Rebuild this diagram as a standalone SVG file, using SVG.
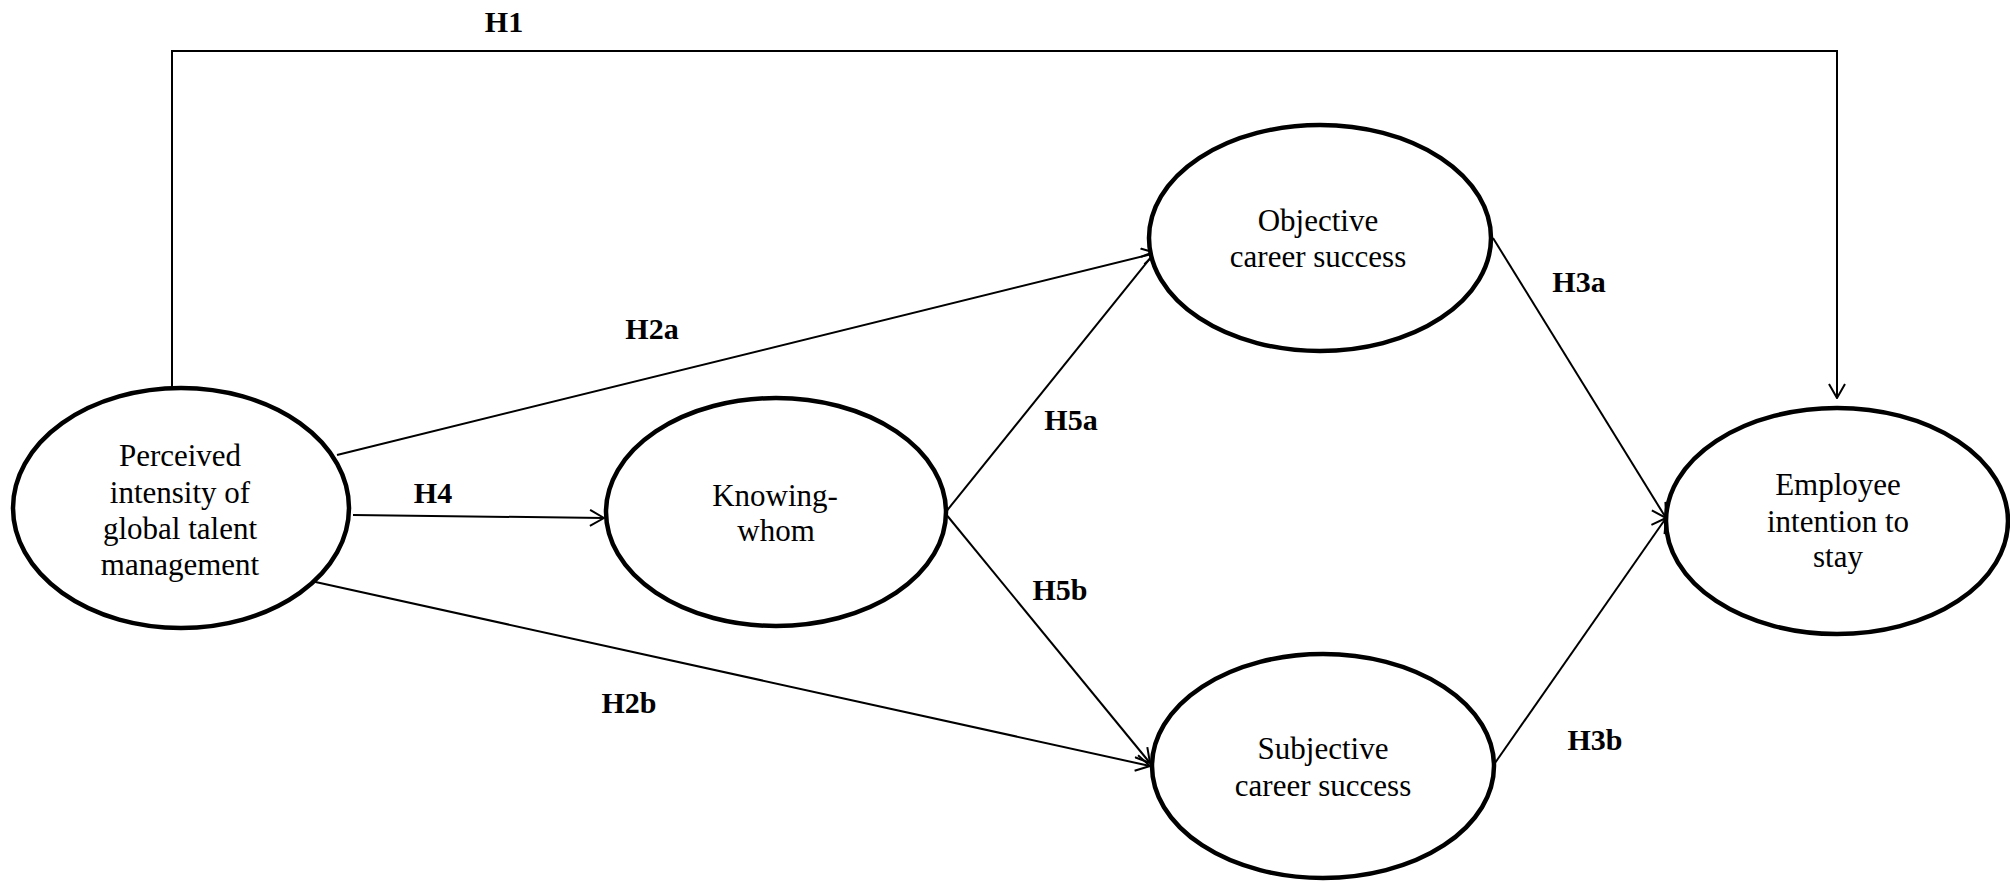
<svg xmlns="http://www.w3.org/2000/svg" width="2010" height="882" viewBox="0 0 2010 882">
<style>
.node{fill:#fff;stroke:#000;stroke-width:4.5}
.nt{font-family:"Liberation Serif","Times New Roman",serif;font-size:31px;fill:#000;text-anchor:middle}
.lb{font-family:"Liberation Serif","Times New Roman",serif;font-size:30px;font-weight:bold;fill:#000;text-anchor:middle}
.edge{fill:none;stroke:#000;stroke-width:2;marker-end:url(#arr)}
</style>
<defs>
<marker id="arr" viewBox="0 0 16 18" refX="15" refY="9" markerWidth="16" markerHeight="18" markerUnits="userSpaceOnUse" orient="auto">
<path d="M1,1 L15,9 L1,17" fill="none" stroke="#000" stroke-width="2"/>
</marker>
</defs>
<rect width="2010" height="882" fill="#fff"/>
<g id="connectors">
<polyline class="edge" points="172,388 172,51 1837,51 1837,398"/>
<line class="edge" x1="337" y1="455" x2="1156" y2="253"/>
<line class="edge" x1="353" y1="515" x2="604" y2="518"/>
<line class="edge" x1="311" y1="581" x2="1150" y2="766"/>
<line class="edge" x1="945" y1="513" x2="1156" y2="251"/>
<line class="edge" x1="945" y1="513" x2="1150" y2="763"/>
<line class="edge" x1="1493" y1="238" x2="1666" y2="518"/>
<line class="edge" x1="1495" y1="763" x2="1666" y2="518"/>
<text class="lb" x="504" y="32">H1</text>
<text class="lb" x="652" y="339">H2a</text>
<text class="lb" x="433" y="503">H4</text>
<text class="lb" x="629" y="713">H2b</text>
<text class="lb" x="1071" y="430">H5a</text>
<text class="lb" x="1060" y="600">H5b</text>
<text class="lb" x="1579" y="292">H3a</text>
<text class="lb" x="1595" y="750">H3b</text>
</g>
<g id="pigtm">
<ellipse class="node" cx="181" cy="508" rx="168" ry="120"/>
<text class="nt" x="180" y="466">Perceived</text>
<text class="nt" x="180" y="503">intensity of</text>
<text class="nt" x="180" y="539">global talent</text>
<text class="nt" x="180" y="575">management</text>
</g>
<g id="knowing">
<ellipse class="node" cx="776" cy="512" rx="170" ry="114"/>
<text class="nt" x="775" y="506">Knowing-</text>
<text class="nt" x="776" y="541">whom</text>
</g>
<g id="objective">
<ellipse class="node" cx="1320" cy="238" rx="171" ry="113"/>
<text class="nt" x="1318" y="231">Objective</text>
<text class="nt" x="1318" y="267">career success</text>
</g>
<g id="subjective">
<ellipse class="node" cx="1323" cy="766" rx="171" ry="112"/>
<text class="nt" x="1323" y="759">Subjective</text>
<text class="nt" x="1323" y="796">career success</text>
</g>
<g id="employee">
<ellipse class="node" cx="1837" cy="521" rx="171" ry="113"/>
<text class="nt" x="1838" y="495">Employee</text>
<text class="nt" x="1838" y="532">intention to</text>
<text class="nt" x="1838" y="567">stay</text>
</g>
</svg>
